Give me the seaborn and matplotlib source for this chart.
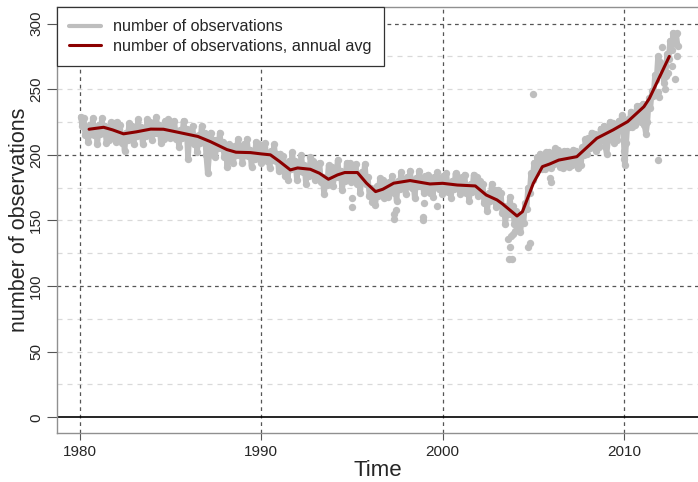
import numpy as np
import pandas as pd
import matplotlib
matplotlib.use("Agg")
import matplotlib.pyplot as plt
import seaborn as sns
from matplotlib.lines import Line2D

# ---------------- data ----------------
start_year = 1980
# monthly number of observations, Jan..Dec, one row per year
obs_1980s = [
    229, 222, 228, 215, 220, 210, 223, 216, 228, 215, 221, 208,
    223, 216, 228, 217, 222, 209, 217, 211, 225, 218, 224, 210,
    225, 217, 223, 209, 215, 203, 217, 211, 224, 216, 222, 208,
    221, 214, 227, 215, 221, 208, 220, 214, 227, 218, 225, 211,
    224, 217, 229, 217, 223, 209, 218, 212, 226, 219, 227, 213,
    225, 218, 226, 212, 218, 206, 219, 213, 226, 217, 220, 197,
    217, 213, 222, 208, 214, 202, 215, 209, 222, 213, 217, 200,
    186, 200, 217, 205, 211, 198, 211, 205, 217, 205, 210, 198,
    205, 191, 208, 199, 206, 194, 207, 200, 212, 200, 206, 194,
    208, 200, 212, 199, 204, 191, 203, 197, 210, 201, 208, 194,
]
obs_1990s = [
    207, 200, 209, 195, 201, 190, 203, 196, 208, 195, 201, 188,
    201, 193, 199, 184, 190, 181, 195, 189, 202, 190, 195, 181,
    194, 188, 200, 187, 192, 178, 190, 184, 198, 189, 195, 181,
    193, 186, 194, 179, 183, 170, 181, 177, 192, 185, 191, 176,
    189, 183, 196, 183, 188, 173, 185, 180, 194, 187, 194, 179,
    191, 185, 193, 178, 180, 171, 187, 182, 193, 178, 183, 169,
    175, 164, 170, 162, 176, 169, 182, 174, 181, 167, 176, 168,
    179, 172, 184, 171, 177, 165, 180, 174, 187, 175, 181, 170,
    183, 176, 188, 175, 180, 167, 182, 176, 188, 176, 182, 171,
    184, 177, 185, 171, 177, 168, 183, 176, 187, 174, 181, 170,
]
obs_2000s = [
    184, 177, 186, 172, 178, 167, 180, 174, 186, 175, 182, 170,
    183, 176, 185, 171, 176, 165, 178, 172, 185, 176, 183, 169,
    180, 172, 178, 163, 169, 157, 171, 165, 178, 167, 173, 160,
    173, 165, 171, 156, 161, 147, 160, 155, 168, 155, 161, 147,
    157, 145, 153, 141, 154, 148, 163, 159, 175, 171, 186, 181,
    194, 186, 198, 190, 201, 189, 197, 189, 202, 194, 202, 190,
    201, 193, 205, 196, 204, 191, 198, 190, 203, 195, 203, 191,
    200, 192, 204, 195, 203, 190, 199, 192, 206, 200, 212, 201,
    213, 205, 217, 208, 216, 203, 212, 206, 220, 213, 222, 207,
    201, 211, 225, 216, 224, 209, 217, 211, 226, 219, 230, 218,
]
obs_2010s = [
    192, 209, 227, 221, 233, 221, 229, 223, 237, 229, 237, 225,
    239, 223, 216, 225, 243, 236, 249, 245, 261, 257, 275, 271,
    267, 265, 255, 260, 277, 273, 287, 280, 293, 285, 292, 283,
]
# isolated points outside the main band
extra_years = [1995.0, 1995.02, 1997.3, 1997.32, 1997.4, 1998.9, 1998.92, 1998.95,
               1999.7, 2003.6, 2003.65, 2003.7, 2003.75, 2003.8, 2003.9, 2004.0,
               2004.7, 2004.8, 2005.0, 2005.9, 2006.0, 2010.0, 2010.02, 2010.05,
               2011.85, 2011.9, 2011.95, 2012.1, 2012.25, 2012.45, 2012.65,
               2012.8, 2012.9, 2012.95]
extra_values = [160, 167, 151, 155, 158, 150, 153, 163,
                161, 136, 121, 130, 138, 121, 140, 142,
                130, 133, 246, 182, 179, 197, 203, 209,
                248, 196, 244, 282, 250, 262, 268,
                258, 275, 293]

# annual average (running) line
avg_years = [1980.5, 1981.3, 1981.8, 1982.4, 1983.1, 1983.9, 1984.6, 1985.3,
             1986.5, 1987.2, 1988.1, 1988.6, 1989.4, 1990.0, 1990.5, 1991.0,
             1991.6, 1992.0, 1992.7, 1993.2, 1993.7, 1994.2, 1994.6, 1995.3,
             1995.8, 1996.3, 1996.7, 1997.3, 1998.2, 1999.3, 2000.0, 2000.8,
             2001.8, 2002.4, 2003.0, 2003.3, 2004.1, 2004.4, 2005.0, 2005.5,
             2005.9, 2006.4, 2007.4, 2008.5, 2009.4, 2010.2, 2011.1, 2011.4,
             2012.5]
avg_values = [219.5, 221, 219, 216, 217.5, 219.6, 219.5, 217.5,
              214, 210, 204, 202, 201.7, 200.7, 200, 195,
              188.5, 190, 189, 186, 181.4, 184.7, 186.5, 186.5,
              178.4, 172, 173.8, 178.4, 180.4, 177.8, 178.3, 177,
              176.3, 169.4, 165.6, 162.6, 153.4, 156.7, 178.3, 191,
              193, 196, 198.6, 212.6, 219, 225.3, 236.7, 243,
              275]

x_ticks = [1980, 1990, 2000, 2010]
y_ticks = [0, 50, 100, 150, 200, 250, 300]

# ---------------- build frames ----------------
monthly = obs_1980s + obs_1990s + obs_2000s + obs_2010s
m_time = [start_year + (i + 0.5) / 12 for i in range(len(monthly))]
df_month = pd.DataFrame({"time": m_time, "n": monthly})
df_obs = pd.DataFrame({"time": m_time + extra_years, "n": monthly + extra_values})
df_avg = pd.DataFrame({"time": avg_years, "n": avg_values})

# ---------------- figure ----------------
sns.set_theme(style="white")
plt.rcParams['font.family'] = ['Liberation Sans', 'DejaVu Sans']

W, H = 698, 482
fig = plt.figure(figsize=(W / 100, H / 100), dpi=100)
left, right, top, bottom = 57, 698, 7, 433
ax = fig.add_axes([left / W, 1 - bottom / H, (right - left) / W, (bottom - top) / H])

px_per_year = (624 - 80) / 30.0
x0 = 1980 - (80 - left) / px_per_year
x1 = 1980 + (right - 80) / px_per_year
ax.set_xlim(x0, x1)
px_per_unit = (417.3 - 286.0) / 100.0
ax.set_ylim(-(433 - 417.3) / px_per_unit, 300 + (23.6 - 7) / px_per_unit)

# grid
for yv in range(25, 300, 25):
    if yv % 100 != 0:
        ax.axhline(yv, color="#d9d9d9", lw=0.9, ls=(0, (4, 4)), zorder=0)
for yv in [100, 200, 300]:
    ax.axhline(yv, color="#555555", lw=0.9, ls=(0, (3, 3)), zorder=0.5)
for xv in x_ticks:
    ax.axvline(xv, color="#555555", lw=0.9, ls=(0, (3, 3)), zorder=0.5)
ax.axhline(0, color="black", lw=1.2, zorder=0.6)

gray = "#bebebe"
sns.lineplot(data=df_month, x="time", y="n", ax=ax, color=gray, lw=4.0,
             zorder=2, legend=False, solid_joinstyle="round", solid_capstyle="round")
sns.scatterplot(data=df_obs, x="time", y="n", ax=ax, color=gray,
                s=28, linewidth=0, zorder=2, legend=False)
sns.lineplot(data=df_avg, x="time", y="n", ax=ax, color="#8b0000",
             lw=2.2, zorder=3, legend=False)

ax.set_xticks(x_ticks)
ax.set_xticklabels([str(v) for v in x_ticks], fontsize=11)
ax.set_yticks(y_ticks)
ax.set_yticklabels([str(v) for v in y_ticks], fontsize=11, rotation=90, va="center")
ax.tick_params(axis="x", length=5, width=0.8, color="#555555", pad=4, direction="out", bottom=True)
ax.tick_params(axis="y", length=7, width=0.8, color="#555555", pad=3, direction="out", left=True)

ax.set_xlabel("Time", fontsize=16, labelpad=0)
ax.set_ylabel("number of observations", fontsize=15.5, labelpad=-1)

for s in ["left", "bottom", "top"]:
    ax.spines[s].set_color("#909090")
    ax.spines[s].set_linewidth(1.0)
ax.spines["right"].set_visible(False)

handles = [Line2D([0], [0], color=gray, lw=3),
           Line2D([0], [0], color="#8b0000", lw=2.2)]
leg = ax.legend(handles, ["number of observations", "number of observations, annual avg"],
                loc="upper left", bbox_to_anchor=(0, 1), borderaxespad=0,
                fontsize=11.7, frameon=True, fancybox=False, handlelength=1.95,
                handletextpad=0.75, borderpad=0.75, labelspacing=0.3)
leg.get_frame().set_edgecolor("#333333")
leg.get_frame().set_linewidth(0.9)
leg.get_frame().set_alpha(1)

fig.savefig("out.png", dpi=100)
